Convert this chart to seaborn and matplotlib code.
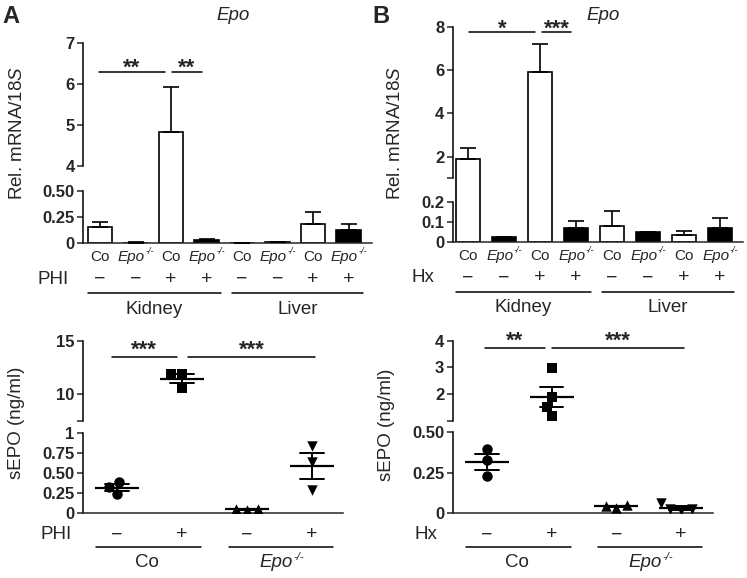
import numpy as np
import matplotlib
matplotlib.use('Agg')
import matplotlib.pyplot as plt
import seaborn as sns

sns.set_style('ticks')
plt.rcParams['font.family'] = ['Liberation Sans', 'DejaVu Sans']
plt.rcParams['mathtext.fontset'] = 'custom'
plt.rcParams['mathtext.rm'] = 'Liberation Sans'
plt.rcParams['mathtext.it'] = 'Liberation Sans:italic'
plt.rcParams['mathtext.bf'] = 'Liberation Sans:bold'

# ---------------- data ----------------
# top row: Rel. mRNA/18S, bars = Kidney (Co-, Epo-, Co+, Epo+), Liver (same)
bar_geno = ['Co', 'Epo', 'Co', 'Epo', 'Co', 'Epo', 'Co', 'Epo']
bar_treat = ['−', '−', '+', '+', '−', '−', '+', '+']
tissues = ['Kidney', 'Liver']

phi_mrna = [0.157, 0.003, 4.83, 0.030, 0.002, 0.005, 0.18, 0.128]
phi_mrna_top = [0.205, 0.006, 5.92, 0.035, 0.003, 0.008, 0.30, 0.18]
hx_mrna = [1.90, 0.022, 5.93, 0.071, 0.081, 0.048, 0.032, 0.071]
hx_mrna_top = [2.42, 0.026, 7.19, 0.105, 0.156, 0.051, 0.054, 0.119]

# bottom row: serum EPO (ng/ml), one value per mouse
dot_geno = ['Co', 'Epo']
dot_treat = ['−', '+', '−', '+']
dot_markers = ['o', 's', '^', 'v']
phi_co_neg = [0.39, 0.325, 0.23]
phi_co_pos = [11.9, 11.85, 10.6]
phi_ko_neg = [0.045, 0.035, 0.045]
phi_ko_pos = [0.84, 0.63, 0.28]
hx_co_neg = [0.394, 0.327, 0.226]
hx_co_pos = [2.97, 1.90, 1.54, 1.18]
hx_ko_neg = [0.048, 0.028, 0.040]
hx_ko_pos = [0.025, 0.015, 0.020, 0.060]

# ---------------- figure ----------------
W, H = 747, 578
fig = plt.figure(figsize=(W / 100, H / 100), dpi=100)


def add_ax(x0, y0, x1, y1):
    return fig.add_axes([x0 / W, 1 - y1 / H, (x1 - x0) / W, (y1 - y0) / H])


def broken_y(ax, vals, pix):
    # piecewise linear y scale: lower part, squeezed gap, upper part
    v = np.asarray(vals, float)
    p = np.asarray(pix, float)
    s0 = (p[1] - p[0]) / (v[1] - v[0])
    s1 = (p[-1] - p[-2]) / (v[-1] - v[-2])
    ve = np.r_[v[0] - 1e4, v, v[-1] + 1e4]
    pe = np.r_[p[0] - 1e4 * s0, p, p[-1] + 1e4 * s1]
    ax.set_yscale('function', functions=(lambda y: np.interp(y, ve, pe),
                                         lambda y: np.interp(y, pe, ve)))


def below(ax, x, dy, s, dx=0, **kw):
    kw.setdefault('ha', 'center')
    ax.annotate(s, xy=(x, 0), xycoords=('data', 'axes fraction'), xytext=(dx, -dy),
                textcoords='offset pixels', va='center', annotation_clip=False, **kw)


def genotype_text(ax, x, dy, g, size):
    if g == 'Co':
        below(ax, x, dy, 'Co', fontsize=size)
        return
    w_main = 1.779 * size * 1.389
    w_sup = 0.944 * 0.6 * size * 1.389
    shift = (w_main - w_sup) / 2
    below(ax, x, dy, 'Epo', dx=shift, ha='right', fontsize=size, style='italic')
    below(ax, x, dy - 0.33 * size * 1.389, '-/-', dx=shift + 0.5, ha='left',
          fontsize=size * 0.6, style='italic')


def below_line(ax, x1, x2, dy):
    y = -dy / ax.bbox.height
    ax.plot([x1, x2], [y, y], transform=ax.get_xaxis_transform(),
            color='black', lw=1.1, clip_on=False)


def factor(ax, dx, dy, s):
    ax.text(-dx / ax.bbox.width, -dy / ax.bbox.height, s, transform=ax.transAxes,
            ha='center', va='center', fontsize=13.5, clip_on=False)


def sig(ax, x1, x2, y, txt, off):
    ax.plot([x1, x2], [y, y], color='black', lw=1.1, clip_on=False)
    ax.annotate(txt, xy=((x1 + x2) / 2, y), xytext=(0, off),
                textcoords='offset pixels', ha='center', va='center',
                fontsize=16, fontweight='bold', annotation_clip=False)


def finish(ax, vals, ticks, labels, xlim):
    tr = ax.get_yaxis_transform()
    for lo, hi in [(vals[0], vals[1]), (vals[2], vals[3])]:
        ax.plot([0, 0], [lo, hi], transform=tr, color='black', lw=1.1,
                clip_on=False, solid_capstyle='projecting')
    for s in ['top', 'right', 'left']:
        ax.spines[s].set_visible(False)
    ax.spines['bottom'].set_linewidth(1.1)
    ax.set_yticks(ticks)
    ax.set_yticklabels(labels, fontsize=12, fontweight='bold')
    ax.minorticks_off()
    ax.tick_params(axis='y', direction='out', length=4, width=1.1, pad=2)
    ax.set_xticks([])
    ax.set_xlabel('')
    ax.set_ylim(vals[0], vals[-1])
    ax.set_xlim(*xlim)


def bar_panel(ax, means, tops, vals, pix, ticks, labels, xlim, sigs, fac):
    broken_y(ax, vals, pix)
    pos = np.arange(len(means))
    sns.barplot(x=pos, y=means, hue=bar_geno, palette={'Co': 'white', 'Epo': 'black'},
                native_scale=True, dodge=False, width=0.68, edgecolor='black',
                linewidth=1.2, errorbar=None, legend=False, ax=ax)
    ax.errorbar(pos, means, yerr=[np.zeros(len(means)), np.subtract(tops, means)],
                fmt='none', ecolor='black', elinewidth=1.2, capsize=5.5,
                capthick=1.2, zorder=3)
    for x1, x2, y, t, off in sigs:
        sig(ax, x1, x2, y, t, off)
    finish(ax, vals, ticks, labels, xlim)
    for p, g, t in zip(pos, bar_geno, bar_treat):
        genotype_text(ax, p, 14, g, 11)
        below(ax, p, 36, t, fontsize=14)
    factor(ax, 30, 36, fac)
    below_line(ax, -0.33, 3.4, 50)
    below_line(ax, 3.72, 7.4, 50)
    below(ax, 1.53, 66, tissues[0], fontsize=13.5)
    below(ax, 5.56, 66, tissues[1], fontsize=13.5)
    ax.set_ylabel(r'Rel. mRNA/$\mathit{18S}$', fontsize=13.5, va='center')


def dot_panel(ax, groups, vals, pix, ticks, labels, xlim, sigs, fac):
    broken_y(ax, vals, pix)
    xs = np.concatenate([[i] * len(g) for i, g in enumerate(groups)])
    ys = np.concatenate(groups)
    for i, (g, m) in enumerate(zip(groups, dot_markers)):
        sns.swarmplot(x=[i] * len(g), y=g, native_scale=True, marker=m,
                      color='black', size=7.5, warn_thresh=1, ax=ax)
    sns.pointplot(x=xs, y=ys, native_scale=True, errorbar='se', capsize=0.36,
                  marker='_', markersize=31, markeredgewidth=1.6, linestyle='none',
                  color='black', err_kws={'linewidth': 1.4}, ax=ax)
    for x1, x2, y, t, off in sigs:
        sig(ax, x1, x2, y, t, off)
    finish(ax, vals, ticks, labels, xlim)
    for p, t in enumerate(dot_treat):
        below(ax, p, 22, t, fontsize=14)
    factor(ax, 27, 22, fac)
    below_line(ax, -0.32, 1.3, 34)
    below_line(ax, 1.72, 3.33, 34)
    genotype_text(ax, 0.47, 50, dot_geno[0], 13.5)
    genotype_text(ax, 2.53, 50, dot_geno[1], 13.5)
    ax.set_ylabel('sEPO (ng/ml)', fontsize=13.5, va='center')


# panel A top
axA1 = add_ax(83, 43, 372, 243)
bar_panel(axA1, phi_mrna, phi_mrna_top, [0, 0.5, 4, 7], [0, 52.3, 77.3, 200],
          [0, 0.25, 0.5, 4, 5, 6, 7], ['0', '0.25', '0.50', '4', '5', '6', '7'],
          (-0.48, 7.66), [(-0.03, 1.83, 6.29, '**', 4), (2.03, 2.87, 6.29, '**', 4)], 'PHI')
axA1.yaxis.set_label_coords(-0.228, 0.55)

# panel B top
axB1 = add_ax(452.7, 26.7, 742.7, 241.7)
bar_panel(axB1, hx_mrna, hx_mrna_top, [0, 0.2, 1, 8], [0, 39.4, 63.4, 215],
          [0, 0.1, 0.2, 1, 2, 4, 6, 8], ['0', '0.1', '0.2', '', '2', '4', '6', '8'],
          (-0.43, 7.63), [(0.03, 1.85, 7.74, '*', 3), (2.04, 2.87, 7.74, '***', 3)], 'Hx')
axB1.yaxis.set_label_coords(-0.196, 0.505)

# panel A bottom
axA2 = add_ax(83, 340.7, 343, 512.7)
dot_panel(axA2, [phi_co_neg, phi_co_pos, phi_ko_neg, phi_ko_pos],
          [0, 1, 7.5, 15], [0, 80, 92, 172],
          [0, 0.25, 0.5, 0.75, 1, 7.5, 10, 15],
          ['0', '0.25', '0.50', '0.75', '1', '', '10', '15'],
          (-0.52, 3.48), [(-0.08, 0.92, 13.45, '***', 7), (1.1, 3.05, 13.45, '***', 7)], 'PHI')
axA2.yaxis.set_label_coords(-0.256, 0.52)

# panel B bottom
axB2 = add_ax(452.7, 340.7, 713.3, 512.7)
dot_panel(axB2, [hx_co_neg, hx_co_pos, hx_ko_neg, hx_ko_pos],
          [0, 0.5, 1, 4], [0, 80.4, 91.7, 172],
          [0, 0.25, 0.5, 1, 2, 3, 4], ['0', '0.25', '0.50', '', '2', '3', '4'],
          (-0.53, 3.5), [(-0.03, 0.9, 3.72, '**', 7), (1.0, 3.05, 3.72, '***', 7)], 'Hx')
axB2.yaxis.set_label_coords(-0.254, 0.51)

# panel letters and titles
fig.text(10.5 / W, 1 - 16.5 / H, 'A', fontsize=17, fontweight='bold', ha='center', va='center')
fig.text(380.5 / W, 1 - 16.5 / H, 'B', fontsize=17, fontweight='bold', ha='center', va='center')
fig.text(233 / W, 1 - 16 / H, 'Epo', fontsize=13.5, style='italic', ha='center', va='center')
fig.text(603 / W, 1 - 16 / H, 'Epo', fontsize=13.5, style='italic', ha='center', va='center')

fig.savefig('out.png', dpi=100)
